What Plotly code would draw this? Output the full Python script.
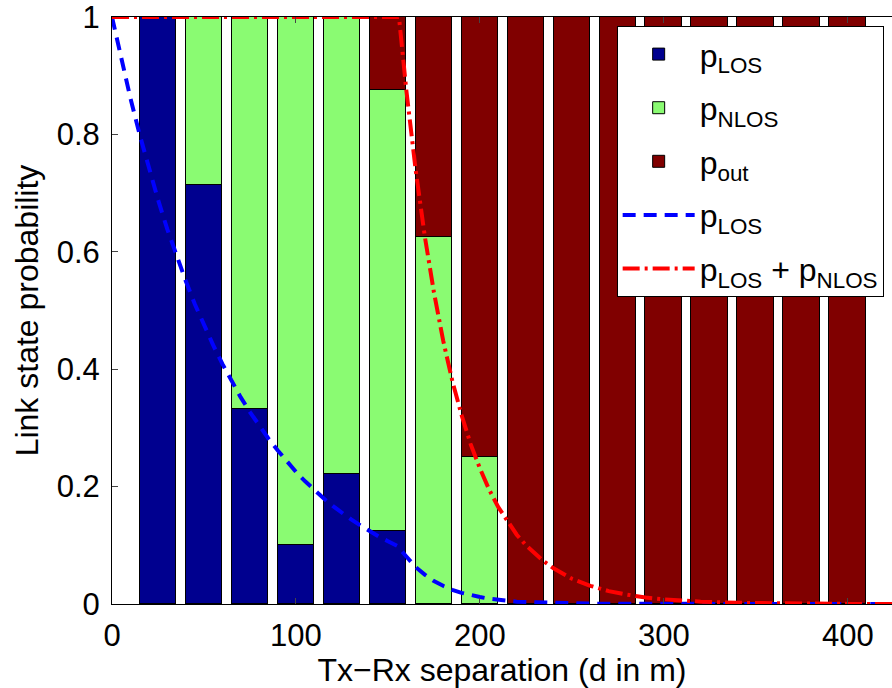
import plotly.graph_objects as go

# ---- data ----
distance = [25, 50, 75, 100, 125, 150, 175, 200, 225, 250, 275, 300, 325, 350, 375, 400]
p_los_bar = [1.0, 0.714, 0.333, 0.1, 0.222, 0.125, 0, 0, 0, 0, 0, 0, 0, 0, 0, 0]
p_nlos_bar = [0.0, 0.286, 0.667, 0.9, 0.778, 0.75, 0.625, 0.25, 0, 0, 0, 0, 0, 0, 0, 0]
p_out_bar = [0.0, 0.0, 0.0, 0.0, 0.0, 0.125, 0.375, 0.75, 1, 1, 1, 1, 1, 1, 1, 1]

d_los_curve = [0, 5, 10, 15, 20, 25, 30, 35, 40, 45, 50, 55, 60, 65, 70, 75, 80, 85, 90,
               95, 100, 105, 110, 115, 120, 125, 130, 135, 140, 145, 150, 155, 160, 165,
               170, 175, 180, 185, 190, 195, 200, 205, 210, 215, 220, 230, 240, 250, 260,
               280, 300, 325, 350, 375, 400, 425]
p_los_curve = [1.0, 0.928, 0.862, 0.800, 0.742, 0.689, 0.639, 0.594, 0.551, 0.511, 0.475,
               0.441, 0.409, 0.380, 0.352, 0.327, 0.304, 0.282, 0.262, 0.243, 0.225, 0.209,
               0.194, 0.180, 0.167, 0.155, 0.144, 0.134, 0.124, 0.115, 0.107, 0.099, 0.081,
               0.063, 0.050, 0.039, 0.031, 0.024, 0.019, 0.015, 0.012, 0.009, 0.007, 0.006,
               0.004, 0.003, 0.002, 0.001, 0.0006, 0.0003, 0.0001, 0, 0, 0, 0, 0]

d_sum_curve = [0, 50, 100, 150, 156, 160, 165, 170, 175, 180, 185, 190, 195, 200, 205, 210,
               215, 220, 225, 230, 235, 240, 250, 260, 270, 280, 290, 300, 320, 340, 360,
               380, 400, 425]
p_sum_curve = [1.0, 1.0, 1.0, 1.0, 1.0, 0.875, 0.741, 0.627, 0.531, 0.449, 0.380, 0.322,
               0.272, 0.231, 0.195, 0.165, 0.140, 0.118, 0.100, 0.085, 0.072, 0.061, 0.043,
               0.031, 0.022, 0.016, 0.011, 0.008, 0.004, 0.002, 0.001, 0.0005, 0.0002, 0.0001]

x_ticks = [0, 100, 200, 300, 400]
y_ticks = [0, 0.2, 0.4, 0.6, 0.8, 1]
y_tick_text = ["0", "0.2", "0.4", "0.6", "0.8", "1"]

FONT = "Liberation Sans, Arial, Helvetica, sans-serif"
C_LOS = "#00008F"
C_NLOS = "#8AFB72"
C_OUT = "#800000"

fig = go.Figure()
bar_line = dict(color="black", width=1)
fig.add_trace(go.Bar(x=distance, y=p_los_bar, width=20, name="p<sub>LOS</sub>",
                     legendgroup="g1", marker=dict(color=C_LOS, line=bar_line)))
fig.add_trace(go.Bar(x=distance, y=p_nlos_bar, width=20, name="p<sub>NLOS</sub>",
                     legendgroup="g2", marker=dict(color=C_NLOS, line=bar_line)))
fig.add_trace(go.Bar(x=distance, y=p_out_bar, width=20, name="p<sub>out</sub>",
                     legendgroup="g3", marker=dict(color=C_OUT, line=bar_line)))
fig.add_trace(go.Scatter(x=d_los_curve, y=p_los_curve, mode="lines", name="p<sub>LOS</sub>",
                         legendgroup="g4",
                         line=dict(color="#0000FF", width=4, dash="13px,8px")))
fig.add_trace(go.Scatter(x=d_sum_curve, y=p_sum_curve, mode="lines",
                         name="p<sub>LOS</sub> + p<sub>NLOS</sub>", legendgroup="g5",
                         line=dict(color="#FF0000", width=4, dash="17px,5px,3px,5px")))

fig.update_layout(
    width=892, height=688,
    margin=dict(l=112, r=0, t=15, b=84),
    paper_bgcolor="white", plot_bgcolor="white",
    barmode="stack", bargap=0,
    font=dict(family=FONT, size=31, color="black"),
    showlegend=True,
    legend=dict(x=0.647, y=0.985, xanchor="left", yanchor="top",
                bgcolor="white", bordercolor="black", borderwidth=1,
                font=dict(family=FONT, size=32), itemwidth=72,
                traceorder="grouped", tracegroupgap=9),
)
fig.update_xaxes(range=[0, 424], tickvals=x_ticks, ticks="inside", ticklen=6,
                 showline=True, linecolor="black", linewidth=1, mirror="ticks",
                 showgrid=False, zeroline=False, ticklabelstandoff=4,
                 ticklabeloverflow="allow",
                 tickfont=dict(size=31),
                 title=dict(text="Tx\u2212Rx separation (d in m)", font=dict(size=32), standoff=2))
fig.update_yaxes(range=[0, 1], tickvals=y_ticks, ticktext=y_tick_text, ticks="inside", ticklen=6,
                 showline=True, linecolor="black", linewidth=1, mirror=False,
                 showgrid=False, zeroline=False, ticklabelstandoff=5,
                 ticklabeloverflow="allow",
                 tickfont=dict(size=31),
                 title=dict(text="Link state probability", font=dict(size=32), standoff=8))

# remove the default 8px page margin so the figure fills the window exactly
fig.write_html("out.html", config={"displayModeBar": False},
               post_script="document.body.style.margin='0px';")
